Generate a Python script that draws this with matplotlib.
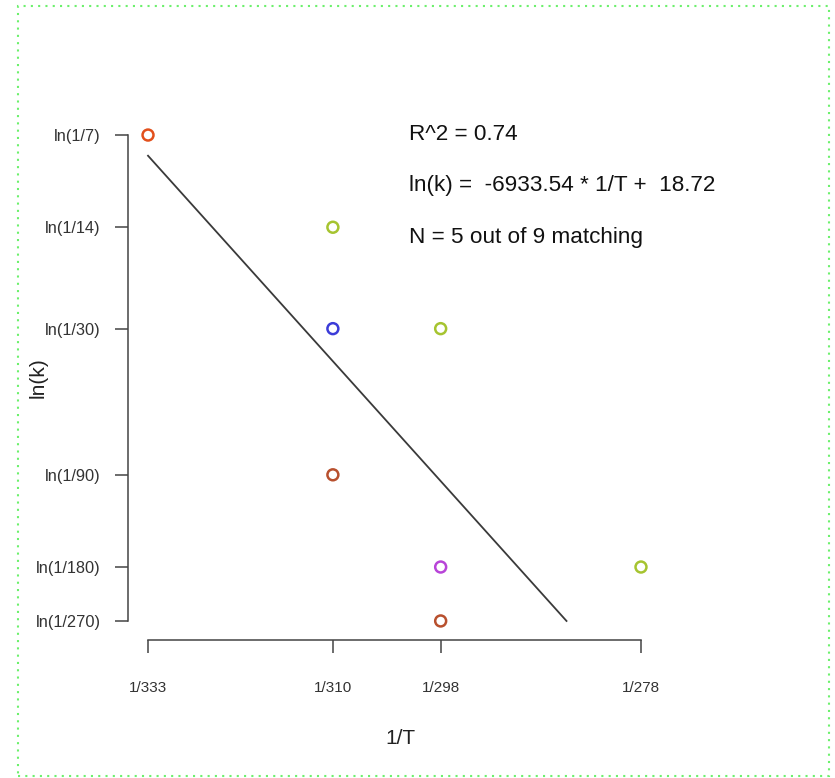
import numpy as np
import matplotlib
matplotlib.use("Agg")
import matplotlib.pyplot as plt
from matplotlib.patches import Rectangle

# ---- data ----
x_tick_T = [333, 310, 298, 278]
x_tick_labels = ["1/333", "1/310", "1/298", "1/278"]
y_tick_denoms = [7, 14, 30, 90, 180, 270]
y_tick_labels = ["ln(1/7)", "ln(1/14)", "ln(1/30)", "ln(1/90)", "ln(1/180)", "ln(1/270)"]

point_T = [333, 310, 310, 298, 310, 298, 278, 298]
point_k_denom = [7, 14, 30, 30, 90, 180, 180, 270]
point_colors = ["#e2501c", "#a6c430", "#3c3cd8", "#a6c430",
                "#b8502e", "#b844d8", "#a6c430", "#b8502e"]

slope = -6933.54
intercept = 18.72
r_squared = 0.74
n_match = 5
n_total = 9

# ---- derived ----
px = 1.0 / np.array(point_T, dtype=float)
py = np.log(1.0 / np.array(point_k_denom, dtype=float))
xt = 1.0 / np.array(x_tick_T, dtype=float)
yt = np.log(1.0 / np.array(y_tick_denoms, dtype=float))

plt.rcParams['font.family'] = ['Liberation Sans', 'DejaVu Sans']

W, H = 835, 778
fig = plt.figure(figsize=(W / 100, H / 100), dpi=100)

# plot region in pixels (R style, 4% padding)
left, right, top, bottom = 128.3, 660.7, 115.6, 640.4
ax = fig.add_axes([left / W, 1 - bottom / H, (right - left) / W, (bottom - top) / H])

xmin, xmax = px.min(), px.max()
ymin, ymax = py.min(), py.max()
xpad = 0.04 * (xmax - xmin)
ypad = 0.04 * (ymax - ymin)
ax.set_xlim(xmin - xpad, xmax + xpad)
ax.set_ylim(ymin - ypad, ymax + ypad)

# regression line, clipped to y range of data
x_end = (ymin - intercept) / slope
lx = np.array([xmin, x_end])
ax.plot(lx, slope * lx + intercept, color="#3a3a3a", lw=1.3, zorder=2)

ax.scatter(px, py, s=62, facecolors="none", edgecolors=point_colors,
           linewidths=1.8, zorder=3)

for s in ["top", "right"]:
    ax.spines[s].set_visible(False)
for s in ["left", "bottom"]:
    ax.spines[s].set_color("#444444")
    ax.spines[s].set_linewidth(1.1)
ax.spines["left"].set_bounds(yt.min(), yt.max())
ax.spines["bottom"].set_bounds(xt.min(), xt.max())

ax.set_xticks(xt)
ax.set_xticklabels(x_tick_labels)
ax.set_yticks(yt)
ax.set_yticklabels(y_tick_labels)
ax.tick_params(axis="both", direction="out", length=9.5, width=1.1,
               color="#444444", labelcolor="#333333", labelsize=11)
ax.tick_params(axis="x", pad=20)
ax.tick_params(axis="y", pad=10.5, labelsize=11.8)

fig.text(400 / W, 1 - 738 / H, "1/T", ha="center", va="center",
         fontsize=15, color="#222222")
fig.text(38 / W, 1 - 378 / H, "ln(k)", ha="center", va="center",
         rotation=90, fontsize=15, color="#222222")

tx = 409 / W
fig.text(tx, 1 - 135 / H, "R^2 = %.2f" % r_squared, ha="left", va="center",
         fontsize=16.2, color="#111111")
fig.text(tx, 1 - 186 / H, "ln(k) =  %.2f * 1/T +  %.2f" % (slope, intercept),
         ha="left", va="center", fontsize=16.2, color="#111111")
fig.text(tx, 1 - 237 / H, "N = %d out of %d matching" % (n_match, n_total),
         ha="left", va="center", fontsize=16.2, color="#111111")

# dotted green frame
frame = Rectangle((18 / W, 1 - 776 / H), (829 - 18) / W, (776 - 6) / H,
                  transform=fig.transFigure, fill=False, edgecolor="#6cf06c",
                  lw=1.5, linestyle=(0, (1.0, 2.5)))
fig.patches.append(frame)

fig.savefig("out.png", dpi=100)
